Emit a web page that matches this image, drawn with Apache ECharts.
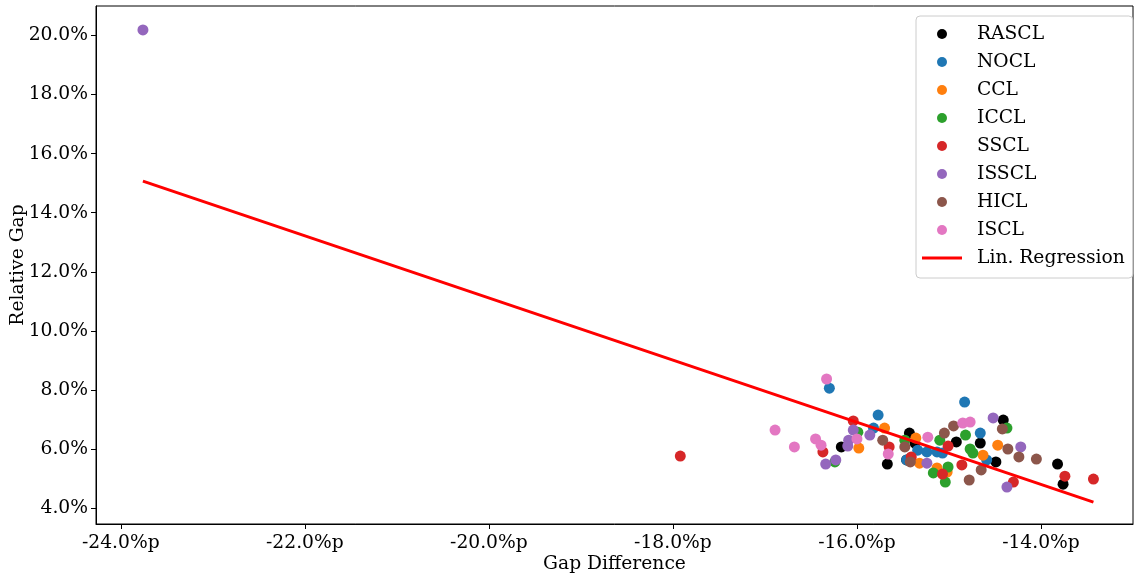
<!DOCTYPE html>
<html>
<head>
<meta charset="utf-8">
<script src="https://cdn.jsdelivr.net/npm/echarts@6/dist/echarts.min.js"></script>
<style>html,body{margin:0;padding:0;background:#fff;}#c{width:1134px;height:576px;}</style>
</head>
<body>
<div id="c"></div>
<script>
// Data: [gap difference (%p), relative gap (%)]
const RASCL = [[-16.17,6.07],[-15.67,5.49],[-15.43,6.54],[-15.37,6.20],[-15.46,5.63],[-14.92,6.24],[-14.66,6.20],[-14.49,5.56],[-14.41,6.98],[-13.82,5.49],[-13.76,4.81]];
const NOCL = [[-16.30,8.06],[-15.77,7.15],[-15.82,6.71],[-15.46,5.63],[-15.34,5.96],[-15.24,5.90],[-15.13,5.90],[-15.07,5.86],[-14.83,7.59],[-14.66,6.54],[-14.59,5.63]];
const CCL = [[-15.98,6.03],[-15.70,6.71],[-15.36,6.37],[-15.32,5.52],[-15.13,5.36],[-15.02,5.22],[-14.63,5.79],[-14.47,6.13]];
const ICCL = [[-16.24,5.56],[-15.99,6.57],[-15.48,6.30],[-15.17,5.19],[-15.10,6.30],[-15.04,4.88],[-15.01,5.39],[-14.82,6.47],[-14.77,6.00],[-14.74,5.86],[-14.37,6.71]];
const SSCL = [[-17.92,5.76],[-16.37,5.90],[-16.04,6.95],[-15.65,6.07],[-15.41,5.73],[-15.07,5.15],[-15.01,6.10],[-14.86,5.46],[-14.30,4.88],[-13.74,5.08],[-13.43,4.98]];
const ISSCL = [[-23.76,20.19],[-16.34,5.49],[-16.23,5.63],[-16.10,6.10],[-16.09,6.30],[-16.04,6.64],[-15.86,6.47],[-15.24,5.52],[-14.52,7.05],[-14.37,4.71],[-14.22,6.07]];
const HICL = [[-15.72,6.30],[-15.48,6.07],[-15.42,5.56],[-15.05,6.54],[-14.95,6.78],[-14.78,4.95],[-14.65,5.29],[-14.42,6.68],[-14.36,6.00],[-14.24,5.73],[-14.05,5.66]];
const ISCL = [[-16.89,6.64],[-16.68,6.07],[-16.45,6.34],[-16.39,6.13],[-16.33,8.37],[-16.00,6.34],[-15.66,5.83],[-15.23,6.40],[-14.85,6.88],[-14.77,6.91]];
const regressionLine = [[-23.76,15.07],[-13.43,4.20]];
const xTicks = [-24,-22,-20,-18,-16,-14];
const yTicks = [4,6,8,10,12,14,16,18,20];

const seriesNames = ['RASCL','NOCL','CCL','ICCL','SSCL','ISSCL','HICL','ISCL'];
const seriesData = [RASCL,NOCL,CCL,ICCL,SSCL,ISSCL,HICL,ISCL];
const colors = ['#000000','#1f77b4','#ff7f0e','#2ca02c','#d62728','#9467bd','#8c564b','#e377c2'];

const FONT = 'DejaVu Serif';
const FS = 18.7;

const series = seriesNames.map((n,i)=>({
  name:n, type:'scatter', data:seriesData[i], symbolSize:11,
  itemStyle:{color:colors[i], opacity:1}, z:2, silent:true
}));
series.push({
  name:'Lin. Regression', type:'line', data:regressionLine, symbol:'none', showSymbol:false,
  lineStyle:{color:'#ff0000', width:3}, itemStyle:{color:'#ff0000'}, z:5, silent:true
});

const chart = echarts.init(document.getElementById('c'), null, {renderer:'canvas'});
chart.setOption({
  animation:false,
  backgroundColor:'#fff',
  textStyle:{fontFamily:FONT},
  grid:{left:96, right:1, top:6, bottom:52, show:true, borderColor:'#000', borderWidth:1,
    containLabel:false, outerBoundsMode:'none'},
  xAxis:{
    type:'value', min:-24.27, max:-13.0,
    name:'Gap Difference', nameLocation:'middle', nameGap:31, nameMoveOverlap:false,
    nameTextStyle:{fontFamily:FONT, fontSize:FS, color:'#000'},
    axisLine:{show:true, lineStyle:{color:'#000', width:1}},
    axisTick:{show:true, length:5, lineStyle:{color:'#000'}, customValues:xTicks},
    axisLabel:{fontFamily:FONT, fontSize:FS, color:'#000', margin:10, customValues:xTicks,
      formatter:v=>v.toFixed(1)+'%p'},
    splitLine:{show:false}
  },
  yAxis:{
    type:'value', min:3.46, max:21.0,
    name:'Relative Gap', nameLocation:'middle', nameGap:68, nameMoveOverlap:false,
    nameTextStyle:{fontFamily:FONT, fontSize:FS, color:'#000'},
    axisLine:{show:true, lineStyle:{color:'#000', width:1}},
    axisTick:{show:true, length:5, lineStyle:{color:'#000'}, customValues:yTicks},
    axisLabel:{fontFamily:FONT, fontSize:FS, color:'#000', margin:8, customValues:yTicks,
      formatter:v=>v.toFixed(1)+'%'},
    splitLine:{show:false}
  },
  legend:{
    orient:'vertical', left:916, top:16,
    padding:[8,8,10,6], itemGap:8, itemWidth:40, itemHeight:10,
    backgroundColor:'rgba(255,255,255,0.8)', borderColor:'#cccccc', borderWidth:1, borderRadius:4,
    textStyle:{fontFamily:FONT, fontSize:FS, color:'#000', lineHeight:20, padding:[0,0,0,10]},
    data:seriesNames.map(n=>({name:n, icon:'circle'})).concat([
      {name:'Lin. Regression', icon:'path://M0,0 H40 V3 H0 Z', itemStyle:{color:'#ff0000'}}
    ])
  },
  series:series
});
</script>
</body>
</html>
